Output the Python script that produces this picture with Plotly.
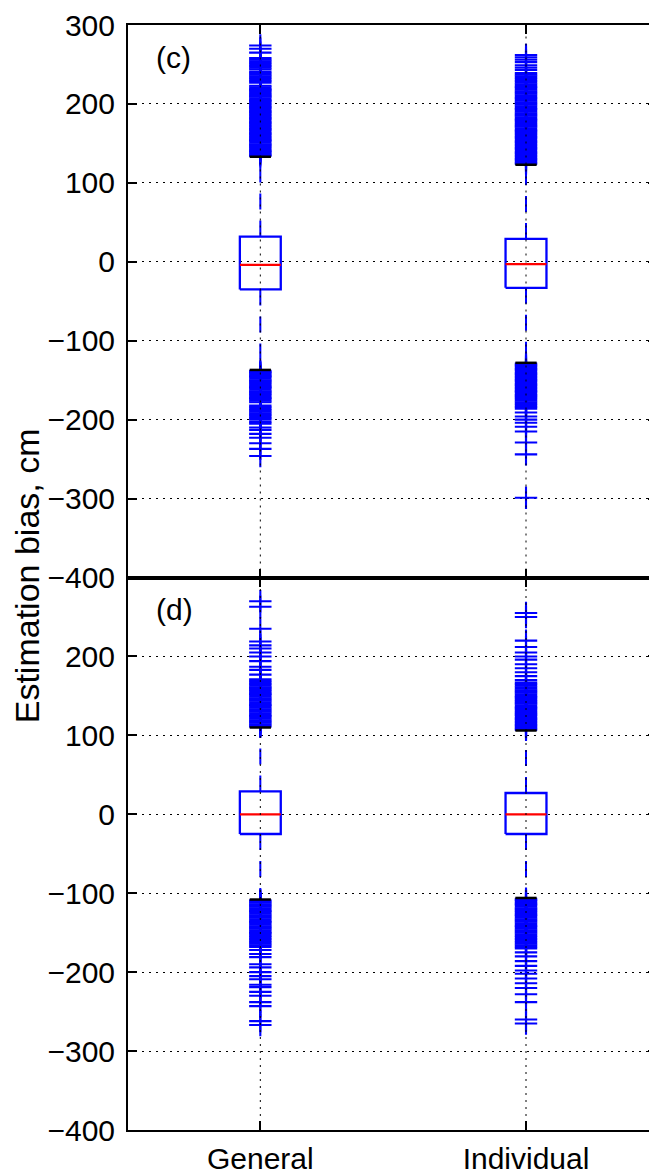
import plotly.graph_objects as go

# ---------------- data ----------------
categories = ["General", "Individual"]
positions = [1, 2]
y_ticks = [-400, -300, -200, -100, 0, 100, 200, 300]

# panel (c)
c_q1 = [-35, -33]
c_median = [-4, -3]
c_q3 = [32, 29]
c_whisk_lo = [-137, -128]
c_whisk_hi = [133, 123]
c_out_general = [134, 135.5, 137, 139, 140.5, 142, 144, 146, 147.5, 149, 151, 153, 154.5, 156, 158, 160,
                 161.5, 163, 165, 167, 168.5, 170, 172, 174, 175.5, 177, 179, 181, 182.5, 184, 186, 188,
                 189.5, 191, 193, 195, 196.5, 198, 200, 202, 203.5, 205, 207, 209, 210.5, 212, 214, 216,
                 217.5, 219, 221, 223, 227, 229, 231, 233, 235, 237, 239, 241, 244, 246, 248, 250, 252,
                 254, 256, 258, 265, 270, 274,
                 -138, -139.5, -141, -143, -144.5, -146, -148, -150, -151.5, -153, -155, -157, -158.5,
                 -160, -162, -164, -165.5, -167, -169, -171, -172.5, -174, -176, -178, -182, -184, -186,
                 -188, -190, -192, -194, -196, -198, -200, -203, -205, -210, -213, -218, -223, -230,
                 -237, -246]
c_out_individual = [124, 125.5, 127, 129, 130.5, 132, 134, 136, 137.5, 139, 141, 143, 144.5, 146, 148, 150,
                    151.5, 153, 155, 157, 158.5, 160, 162, 164, 165.5, 167, 169, 171, 172.5, 174, 176, 178,
                    179.5, 181, 183, 185, 186.5, 188, 190, 192, 193.5, 195, 197, 199, 200.5, 202, 204, 206,
                    207.5, 209, 211, 213, 214.5, 216, 218, 220, 221.5, 223, 225, 227, 229, 231, 233, 235,
                    237, 239, 243, 246, 249, 253, 256, 259, 262,
                    -129, -130.5, -132, -134, -135.5, -137, -139, -141, -142.5, -144, -146, -148, -149.5,
                    -151, -153, -155, -156.5, -158, -160, -162, -163.5, -165, -167, -169, -170.5, -172,
                    -174, -176, -178, -180, -182, -184, -186, -191, -196, -200, -204, -209, -215, -229,
                    -244, -299]

# panel (d)
d_q1 = [-25, -25]
d_median = [0, 0]
d_q3 = [29, 27]
d_whisk_lo = [-108, -106]
d_whisk_hi = [110, 106]
d_out_general = [111, 112.5, 114, 116, 117.5, 119, 121, 123, 124.5, 126, 128, 130, 131.5, 133, 135, 137,
                 138.5, 140, 142, 144, 145.5, 147, 149, 151, 152.5, 154, 156, 158, 159.5, 161, 163, 165,
                 167, 169, 171, 177, 183, 187, 194, 200, 205, 210, 214, 219, 235, 263, 270,
                 -109, -110.5, -112, -114, -115.5, -117, -119, -121, -122.5, -124, -126, -128, -129.5,
                 -131, -133, -135, -136.5, -138, -140, -142, -143.5, -145, -147, -149, -150.5, -152,
                 -154, -156, -158, -160, -162, -164, -166, -168, -172, -177, -181, -190, -194, -200,
                 -205, -209, -216, -219, -225, -230, -238, -243, -262, -267]
d_out_individual = [107, 108.5, 110, 112, 113.5, 115, 117, 119, 120.5, 122, 124, 126, 127.5, 129, 131, 133,
                    134.5, 136, 138, 140, 141.5, 143, 145, 147, 148.5, 150, 152, 154, 155.5, 157, 159, 161,
                    163, 165, 167, 170, 175, 180, 185, 190, 196, 200, 205, 212, 220, 250, 255,
                    -107, -108.5, -110, -112, -113.5, -115, -117, -119, -120.5, -122, -124, -126, -127.5,
                    -129, -131, -133, -134.5, -136, -138, -140, -141.5, -143, -145, -147, -148.5, -150,
                    -152, -154, -156, -158, -160, -162, -164, -166, -168, -170, -175, -180, -186, -192,
                    -198, -202, -208, -214, -220, -228, -238, -260, -265]

panels = [
    dict(label="(c)", q1=c_q1, med=c_median, q3=c_q3, lo=c_whisk_lo, hi=c_whisk_hi,
         out=[c_out_general, c_out_individual], xa="x", ya="y"),
    dict(label="(d)", q1=d_q1, med=d_median, q3=d_q3, lo=d_whisk_lo, hi=d_whisk_hi,
         out=[d_out_general, d_out_individual], xa="x2", ya="y2"),
]

# ---------------- style ----------------
BLUE = "#0000ff"
RED = "#ff0000"
FONT = "Liberation Sans, Arial, Helvetica, sans-serif"
FS = 30
BOX_HW = 0.077
CAP_HW = 0.04
DOT = "2px,5px"
PAGE_OFFSET = 8  # default body margin of the html page

fig = go.Figure()

for p in panels:
    xa, ya = p["xa"], p["ya"]
    for i, pos in enumerate(positions):
        outs = p["out"][i]
        fig.add_trace(go.Scatter(x=[pos] * len(outs), y=outs, mode="markers", xaxis=xa, yaxis=ya,
                                 marker=dict(symbol="cross-thin", size=16, line=dict(color=BLUE, width=2.1)),
                                 showlegend=False, hoverinfo="y"))
        fig.add_trace(go.Scatter(x=[pos, pos, None, pos, pos],
                                 y=[p["q3"][i], p["hi"][i], None, p["q1"][i], p["lo"][i]],
                                 mode="lines", xaxis=xa, yaxis=ya,
                                 line=dict(color=BLUE, width=2, dash="16px,11px"),
                                 showlegend=False, hoverinfo="skip"))
        fig.add_trace(go.Scatter(x=[pos - CAP_HW, pos + CAP_HW, None, pos - CAP_HW, pos + CAP_HW],
                                 y=[p["hi"][i], p["hi"][i], None, p["lo"][i], p["lo"][i]],
                                 mode="lines", xaxis=xa, yaxis=ya,
                                 line=dict(color="black", width=2.5),
                                 showlegend=False, hoverinfo="skip"))
        fig.add_trace(go.Scatter(x=[pos - BOX_HW, pos + BOX_HW, pos + BOX_HW, pos - BOX_HW, pos - BOX_HW],
                                 y=[p["q1"][i], p["q1"][i], p["q3"][i], p["q3"][i], p["q1"][i]],
                                 mode="lines", xaxis=xa, yaxis=ya,
                                 line=dict(color=BLUE, width=2.3),
                                 showlegend=False, hoverinfo="skip"))
        fig.add_trace(go.Scatter(x=[pos - BOX_HW, pos + BOX_HW], y=[p["med"][i], p["med"][i]],
                                 mode="lines", xaxis=xa, yaxis=ya,
                                 line=dict(color=RED, width=2.3),
                                 showlegend=False, hoverinfo="skip"))

fig.add_trace(go.Scatter(x=[None], y=[None], xaxis="x", yaxis="y3", showlegend=False, hoverinfo="skip"))
fig.add_trace(go.Scatter(x=[None], y=[None], xaxis="x2", yaxis="y4", showlegend=False, hoverinfo="skip"))

xr = [0.502, 2.493]
yr = [-400, 300]

common_x = dict(range=xr, tickvals=positions, ticktext=categories, showgrid=False, zeroline=False,
                showline=True, linecolor="black", linewidth=2, mirror="ticks",
                ticks="inside", ticklen=9, tickwidth=1.5, tickcolor="black",
                tickfont=dict(family=FONT, size=FS, color="black"))
common_y = dict(range=yr, showgrid=True, gridcolor="black", gridwidth=1, griddash=DOT,
                zeroline=False, showline=True, linecolor="black", linewidth=2,
                ticks="inside", ticklen=9, tickwidth=1.5, tickcolor="black",
                tickfont=dict(family=FONT, size=FS, color="black"), ticklabelstandoff=5)
right_y = dict(range=yr, showgrid=False, zeroline=False, showline=False, side="right",
               ticks="inside", ticklen=9, tickwidth=1.5, tickcolor="black", showticklabels=False,
               tickvals=y_ticks)

fig.update_layout(
    width=657 - PAGE_OFFSET, height=1174 - PAGE_OFFSET,
    margin=dict(l=128 - PAGE_OFFSET, r=0, t=25 - PAGE_OFFSET, b=44),
    paper_bgcolor="white", plot_bgcolor="white",
    font=dict(family=FONT, size=FS, color="black"),
    showlegend=False,
    xaxis=dict(common_x, domain=[0, 1], anchor="y", showticklabels=False),
    yaxis=dict(common_y, domain=[0.5, 1], anchor="x", tickvals=y_ticks),
    xaxis2=dict(common_x, domain=[0, 1], anchor="y2", matches="x", ticklabelstandoff=1),
    yaxis2=dict(common_y, domain=[0, 0.5], anchor="x2", tickvals=y_ticks[:-1]),
    yaxis3=dict(right_y, overlaying="y", anchor="x"),
    yaxis4=dict(right_y, overlaying="y2", anchor="x2"),
)

shapes = []
for xa, ya in [("x", "y"), ("x2", "y2")]:
    for pos in positions:
        shapes.append(dict(type="line", xref=xa, yref=f"{ya} domain", x0=pos, x1=pos, y0=0, y1=1,
                           line=dict(color="black", width=1, dash=DOT), layer="above"))
fig.update_layout(shapes=shapes)

for p in panels:
    fig.add_annotation(text=p["label"], x=0.6, y=259, xref=p["xa"], yref=p["ya"],
                       xanchor="left", yanchor="middle", showarrow=False,
                       font=dict(family=FONT, size=FS, color="black"))

fig.add_annotation(text="Estimation bias, cm", textangle=-90, xref="paper", yref="paper",
                   x=-0.191, y=0.502, xanchor="center", yanchor="middle", showarrow=False,
                   font=dict(family=FONT, size=34, color="black"))

fig.write_html("out.html")
